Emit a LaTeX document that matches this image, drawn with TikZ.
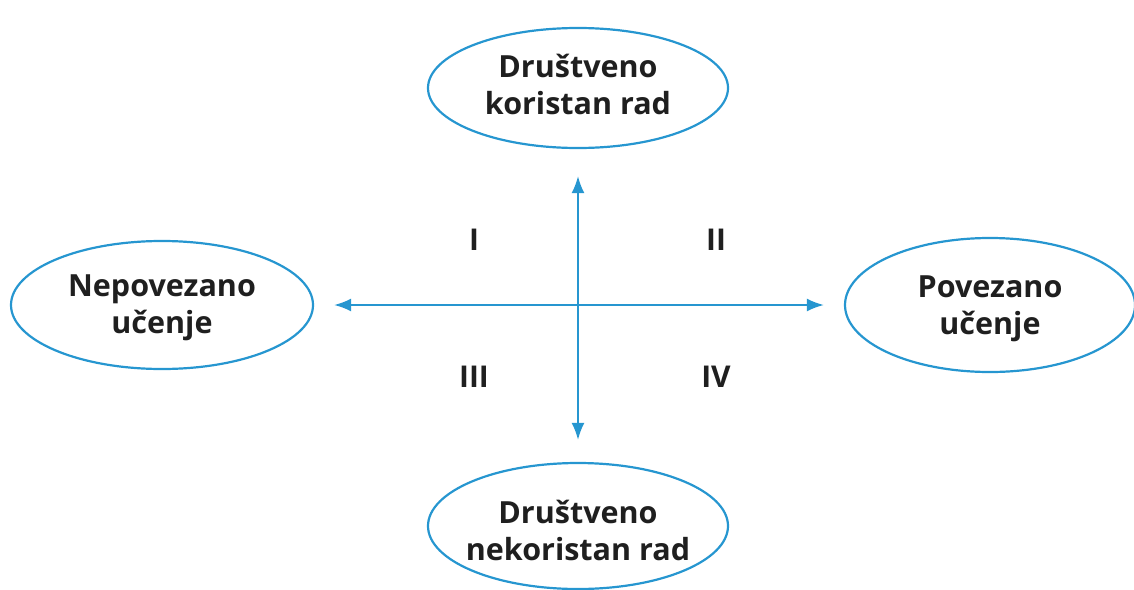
\documentclass[tikz,border=0pt]{standalone}
\usepackage{fontspec}
\setmainfont{Open Sans}
\usepackage{tikz}
\usetikzlibrary{calc,shapes,arrows.meta}
\definecolor{osblue}{RGB}{38,150,208}

\begin{document}
\begin{tikzpicture}[x=1pt,y=-1pt,
    pole/.style={ellipse,draw=osblue,line width=2.2pt,inner sep=0pt},
    txt/.style={align=center,font=\fontsize{30.5}{37}\selectfont\bfseries,text=black!88},
    axis/.style={osblue,line width=2pt,{Latex[length=17pt,width=13pt]}-{Latex[length=17pt,width=13pt]}},
    quad/.style={font=\fontsize{30}{34}\selectfont\bfseries,text=black!88}]
        \useasboundingbox (0,0) rectangle (1134,589);
        \node[pole,minimum width=300pt,minimum height=120pt,
            label={[txt,yshift=4pt]center:Društveno\\koristan rad}] (kor) at (578,88) {};
        \node[pole,minimum width=300pt,minimum height=126pt,
            label={[txt,yshift=-4pt]center:Društveno\\nekoristan rad}] (nekor) at (578,526) {};
        \node[pole,minimum width=302pt,minimum height=128pt,
            label={[txt,yshift=-3pt]center:Nepovezano\\učenje}] (nepov) at (162,305) {};
        \node[pole,minimum width=290pt,minimum height=134pt,
            label={[txt,yshift=-4pt]center:Povezano\\učenje}] (pov) at (990,305) {};
        \draw[axis,shorten <=27pt,shorten >=22pt] (kor) -- (nekor);
        \draw[axis,shorten <=20pt,shorten >=20pt] (nepov) -- (pov);
        \node[quad] (q1) at (474,240) {I};
        \node[quad] (q2) at (716,240) {II};
        \node[quad] (q3) at (474,377) {III};
        \node[quad] (q4) at (716,377) {IV};
    \end{tikzpicture}
\end{document}
